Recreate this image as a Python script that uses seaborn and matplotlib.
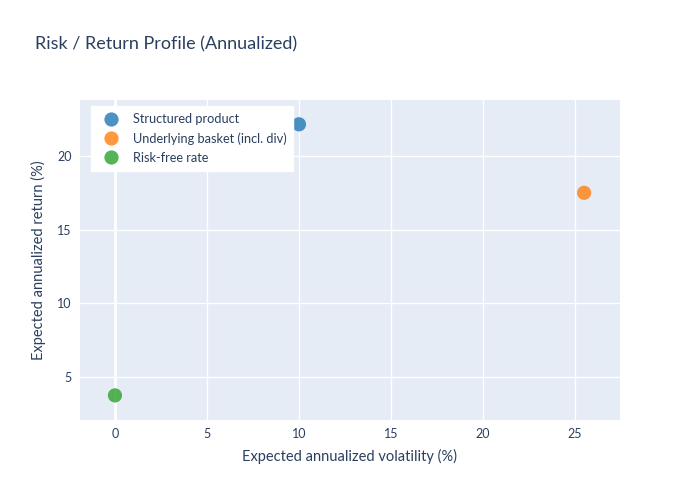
import matplotlib
matplotlib.use("Agg")
import matplotlib.pyplot as plt
import seaborn as sns
import pandas as pd

# values
names = ["Structured product", "Underlying basket (incl. div)", "Risk-free rate"]
volatility = [10.0, 25.5, 0.0]
returns = [22.15, 17.5, 3.75]
colors = ["#1f77b4", "#ff7f0e", "#2ca02c"]
x_ticks = [0, 5, 10, 15, 20, 25]
y_ticks = [5, 10, 15, 20]

df = pd.DataFrame({"name": names, "vol": volatility, "ret": returns})

sns.set_theme(style="darkgrid")
plt.rcParams["font.family"] = ["Lato", "DejaVu Sans"]
text_col = "#2a3f5f"

fig = plt.figure(figsize=(7, 5), dpi=100)
ax = fig.add_axes([80 / 700, 80 / 500, 540 / 700, 320 / 500])
ax.set_facecolor("#e5ecf6")

sns.scatterplot(data=df, x="vol", y="ret", hue="name", palette=colors,
                s=105, alpha=0.8, linewidth=0, ax=ax, zorder=3)

ax.set_xlim(-1.9, 27.45)
ax.set_ylim(2.08, 23.8)
ax.set_xticks(x_ticks)
ax.set_yticks(y_ticks)
ax.grid(True, color="white", linewidth=1)
ax.axvline(0, color="white", linewidth=2, zorder=1)
for s in ax.spines.values():
    s.set_visible(False)
ax.tick_params(axis="both", colors=text_col, labelsize=9, length=0, pad=6)

ax.set_xlabel("Expected annualized volatility (%)", color=text_col, fontsize=10.5, labelpad=6)
ax.set_ylabel("Expected annualized return (%)", color=text_col, fontsize=10.5, labelpad=8)

fig.text(35 / 700, 1 - 44 / 500, "Risk / Return Profile (Annualized)", color=text_col,
         fontsize=13, va="center", ha="left")

leg = ax.legend(loc="upper left", bbox_to_anchor=(11 / 540, 1 - 6 / 320), borderaxespad=0,
                frameon=True, fancybox=False, framealpha=1, edgecolor="white",
                facecolor="white", fontsize=9.2, labelcolor=text_col, borderpad=0.55,
                labelspacing=0.55, handletextpad=0.7, title=None)
for h in leg.legend_handles:
    h.set_alpha(0.8)

fig.savefig("out.png", dpi=100)
